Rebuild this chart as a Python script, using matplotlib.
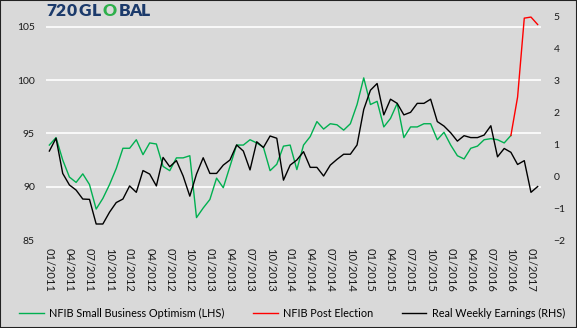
import numpy as np
import matplotlib.pyplot as plt
from matplotlib.patches import Rectangle

plt.rcParams['font.family'] = ['Lato', 'DejaVu Sans']

# monthly series, 01/2011 .. 02/2017
nfib = [93.9, 94.6, 92.5, 90.9, 90.4, 91.2, 90.2, 87.9, 88.9, 90.2, 91.7, 93.6,
        93.6, 94.4, 93.0, 94.1, 94.0, 91.9, 91.5, 92.7, 92.7, 92.9, 87.1, 88.0,
        88.8, 90.8, 89.9, 91.9, 93.9, 93.9, 94.4, 94.1, 93.7, 91.5, 92.1, 93.8,
        93.9, 91.6, 93.9, 94.7, 96.1, 95.4, 95.9, 95.8, 95.3, 95.9, 97.7, 100.2,
        97.7, 98.0, 95.6, 96.4, 97.8, 94.6, 95.6, 95.6, 95.9, 95.9, 94.4, 95.1,
        93.9, 92.9, 92.6, 93.6, 93.8, 94.4, 94.5, 94.4, 94.1, 94.8]
post_election = [94.8, 98.4, 105.8, 105.9, 105.2]
earnings = [0.78, 1.18, 0.08, -0.28, -0.44, -0.72, -0.73, -1.5, -1.5, -1.13, -0.83, -0.72,
            -0.31, -0.51, 0.17, 0.06, -0.31, 0.58, 0.29, 0.48, 0.0, -0.63, 0.06, 0.57,
            0.08, 0.08, 0.34, 0.5, 0.97, 0.78, 0.19, 1.07, 0.89, 1.25, 1.18, -0.13,
            0.34, 0.5, 0.76, 0.27, 0.27, 0.0, 0.34, 0.52, 0.68, 0.68, 0.97, 2.08,
            2.68, 2.89, 1.91, 2.4, 2.27, 1.91, 1.99, 2.27, 2.27, 2.4, 1.7, 1.56,
            1.35, 1.09, 1.26, 1.2, 1.2, 1.28, 1.57, 0.6, 0.86, 0.74, 0.36, 0.48,
            -0.51, -0.33]
tick_labels = ['01/2011', '04/2011', '07/2011', '10/2011', '01/2012', '04/2012',
               '07/2012', '10/2012', '01/2013', '04/2013', '07/2013', '10/2013',
               '01/2014', '04/2014', '07/2014', '10/2014', '01/2015', '04/2015',
               '07/2015', '10/2015', '01/2016', '04/2016', '07/2016', '10/2016',
               '01/2017']

bg = '#D9D9D9'
W, H = 577, 328
fig = plt.figure(figsize=(W / 100, H / 100), dpi=100, facecolor=bg)
ax = fig.add_axes([46 / W, 1 - 240 / H, 495 / W, 224 / H], facecolor=bg)
ax2 = ax.twinx()

x_nfib = np.arange(len(nfib))
x_post = np.arange(len(post_election)) + len(nfib) - 1
x_earn = np.arange(len(earnings))

l1, = ax.plot(x_nfib, nfib, color='#00B050', lw=1.0)
l2, = ax.plot(x_post, post_election, color='#FF0000', lw=1.0)
l3, = ax2.plot(x_earn, earnings, color='#000000', lw=1.0)

ax.set_xlim(-0.5, len(earnings) - 0.5)
ax.set_ylim(85, 106)
ax2.set_ylim(-2, 5)
ax.set_yticks([85, 90, 95, 100, 105])
ax2.set_yticks(range(-2, 6))
ax.set_xticks(np.arange(0, len(earnings), 3))
ax.set_xticklabels(tick_labels, rotation=270, fontsize=8)

ax.grid(axis='y', color='white', lw=1.2)
ax.get_ygridlines()[0].set_visible(False)
ax.set_axisbelow(True)

for a in (ax, ax2):
    for s in a.spines.values():
        s.set_visible(False)
ax.tick_params(axis='y', length=0, labelsize=7.5, colors='#1a1a1a', pad=8)
ax.tick_params(axis='x', length=0, colors='#1a1a1a', pad=6)
ax2.tick_params(axis='y', length=0, labelsize=7.5, colors='#1a1a1a', pad=9)

fig.legend([l1, l2, l3],
           ['NFIB Small Business Optimism (LHS)', 'NFIB Post Election',
            'Real Weekly Earnings (RHS)'],
           loc='center', bbox_to_anchor=(292 / W, 1 - 313 / H), ncol=3,
           frameon=False, fontsize=7.8, handlelength=2.3, handletextpad=0.5,
           columnspacing=2.6)

# logo, one glyph at a time for the wide tracking
navy = '#1B3A6B'
logo = [('7', 51, navy), ('2', 61, navy), ('0', 71.3, navy), ('G', 84.8, navy),
        ('L', 96.5, navy), ('O', 110, '#2DB04B'), ('B', 124.5, navy),
        ('A', 135, navy), ('L', 145, navy)]
for ch, px, col in logo:
    fig.text(px / W, 1 - 11 / H, ch, color=col, fontsize=12.5, fontweight='heavy',
             va='center', ha='center')

fig.patches.append(Rectangle((0, 0), 1, 1, transform=fig.transFigure,
                             fill=False, edgecolor='#222222', lw=1.5))

fig.savefig('out.png', dpi=100, facecolor=bg)
